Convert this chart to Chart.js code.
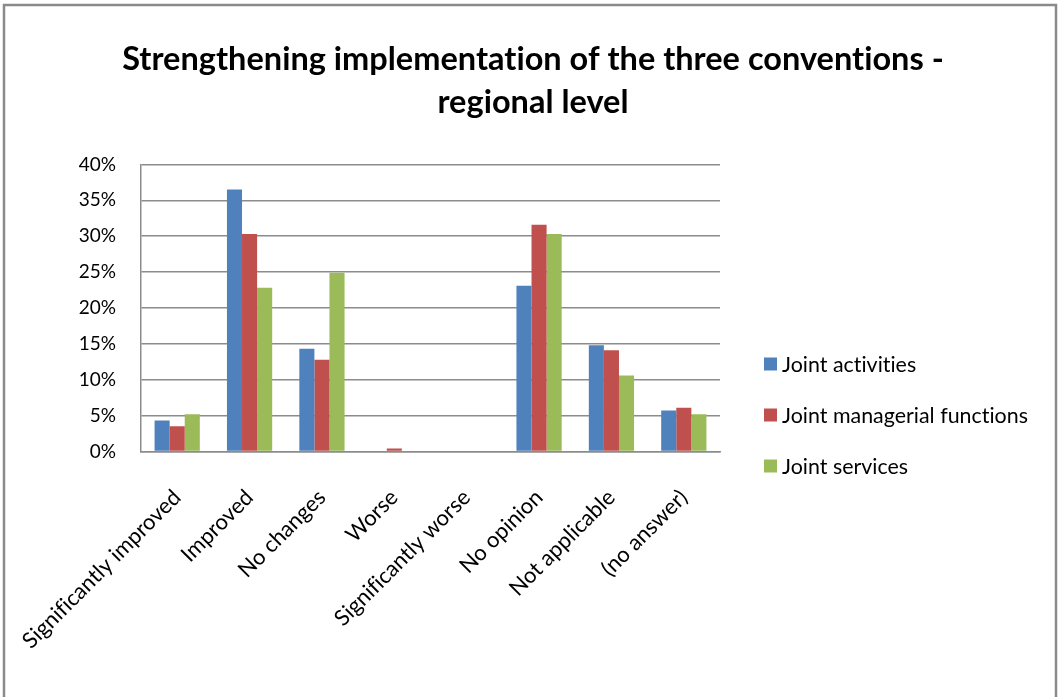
<!DOCTYPE html>
<html>
<head>
<meta charset="utf-8">
<script src="https://cdn.jsdelivr.net/npm/chart.js@4.4.1/dist/chart.umd.min.js"></script>
<style>
  html, body { margin: 0; padding: 0; background: #fff; }
  #wrap { width: 1059px; height: 697px; position: relative; }
</style>
</head>
<body>
<div id="wrap"><canvas id="myChart" width="1059" height="697"></canvas></div>
<script>
const categories = ['Significantly improved', 'Improved', 'No changes', 'Worse',
  'Significantly worse', 'No opinion', 'Not applicable', '(no answer)'];
const jointActivities = [4.3, 36.5, 14.3, 0, 0, 23.1, 14.8, 5.7];
const jointManagerial = [3.5, 30.3, 12.8, 0.4, 0, 31.6, 14.1, 6.1];
const jointServices = [5.2, 22.8, 24.9, 0, 0, 30.3, 10.6, 5.2];
const yTicks = [0, 5, 10, 15, 20, 25, 30, 35, 40];

const FONT = 'Lato, "Open Sans", sans-serif';

// grey frame round the whole chart
const frame = {
  id: 'frame',
  afterDraw(chart) {
    const c = chart.ctx;
    c.save();
    c.strokeStyle = '#8a8a8a';
    c.lineWidth = 2.5;
    c.beginPath();
    c.moveTo(4, 700);
    c.lineTo(4, 5);
    c.lineTo(1056, 5);
    c.lineTo(1056, 700);
    c.stroke();
    c.restore();
  }
};

// no "fi" ligature in the labels
function plainText(chart) {
  chart.ctx.textRendering = 'optimizeSpeed';
  chart.ctx.letterSpacing = '0.01px';
}
const noLigatures = {
  id: 'noLigatures',
  beforeUpdate: plainText,
  beforeDraw: plainText
};

// legend column in the space kept free right of the plot
// (the built-in one is capped at a quarter of the width and gets clipped)
const sideLegend = {
  id: 'sideLegend',
  afterDraw(chart) {
    const c = chart.ctx;
    const x = chart.chartArea.right + 44;
    const y0 = 364, step = 51, box = 13;
    c.save();
    plainText(chart);
    c.font = '21.4px ' + FONT;
    c.textBaseline = 'middle';
    chart.data.datasets.forEach((ds, i) => {
      const y = y0 + i * step;
      c.fillStyle = ds.backgroundColor;
      c.fillRect(x, y - box / 2, box, box);
      c.fillStyle = '#000';
      c.fillText(ds.label, x + box + 5, y + 1);
    });
    c.restore();
  }
};

function draw() {
  const ctx = document.getElementById('myChart').getContext('2d');
  new Chart(ctx, {
    type: 'bar',
    data: {
      labels: categories,
      datasets: [
        { label: 'Joint activities', data: jointActivities, backgroundColor: '#4F81BD' },
        { label: 'Joint managerial functions', data: jointManagerial, backgroundColor: '#C0504D' },
        { label: 'Joint services', data: jointServices, backgroundColor: '#9BBB59' }
      ]
    },
    options: {
      responsive: false,
      animation: false,
      layout: { padding: { left: 10, right: 3, top: 38, bottom: 10 } },
      datasets: { bar: { categoryPercentage: 0.625, barPercentage: 1 } },
      plugins: {
        title: {
          display: true,
          text: ['Strengthening implementation of the three conventions -', 'regional level'],
          color: '#000',
          font: { family: FONT, size: 32.5, weight: 'bold', lineHeight: 1.33 },
          padding: { top: 0, bottom: 40 }
        },
        legend: { display: false },
        tooltip: { enabled: false }
      },
      scales: {
        x: {
          afterFit(scale) {
            scale.paddingLeft = 0;
            scale.paddingRight = 339; // room for the legend column
          },
          grid: { display: false, drawTicks: false },
          border: { color: '#8c8c8c', width: 1.5 },
          ticks: {
            color: '#000',
            font: { family: FONT, size: 22 },
            minRotation: 45,
            maxRotation: 45,
            padding: 33
          }
        },
        y: {
          min: 0,
          max: 40,
          afterBuildTicks(scale) {
            scale.ticks = yTicks.map(v => ({ value: v }));
          },
          afterFit(scale) {
            scale.width = 131;
          },
          grid: { color: '#8c8c8c', lineWidth: 1.5, drawTicks: false },
          border: { color: '#8c8c8c', width: 1.5 },
          ticks: {
            color: '#000',
            font: { family: FONT, size: 19 },
            padding: 25,
            callback: v => v + '%'
          }
        }
      }
    },
    plugins: [noLigatures, frame, sideLegend]
  });
}

Promise.all([
  document.fonts.load('bold 32px Lato'),
  document.fonts.load('21px Lato')
]).then(draw, draw);
</script>
</body>
</html>
